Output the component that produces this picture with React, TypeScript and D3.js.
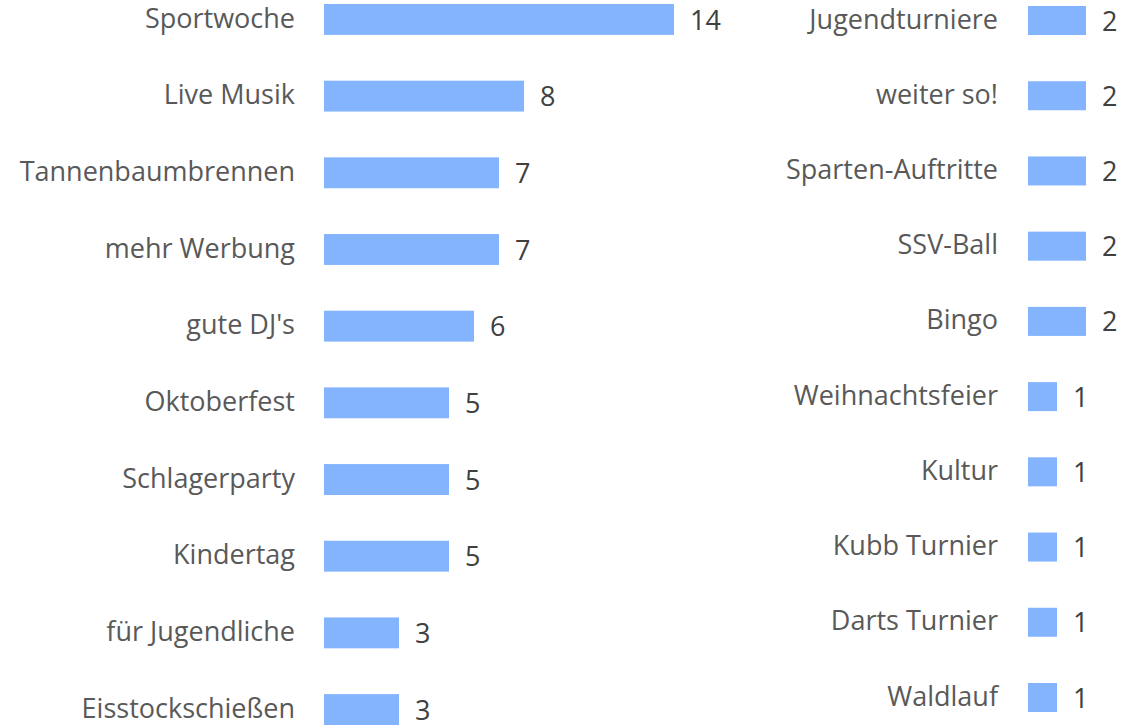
import React, { useRef, useEffect } from "react";
import * as d3 from "d3";

const leftCategories = [
  "Sportwoche",
  "Live Musik",
  "Tannenbaumbrennen",
  "mehr Werbung",
  "gute DJ's",
  "Oktoberfest",
  "Schlagerparty",
  "Kindertag",
  "für Jugendliche",
  "Eisstockschießen",
];
const leftValues = [14, 8, 7, 7, 6, 5, 5, 5, 3, 3];

const rightCategories = [
  "Jugendturniere",
  "weiter so!",
  "Sparten-Auftritte",
  "SSV-Ball",
  "Bingo",
  "Weihnachtsfeier",
  "Kultur",
  "Kubb Turnier",
  "Darts Turnier",
  "Waldlauf",
];
const rightValues = [2, 2, 2, 2, 2, 1, 1, 1, 1, 1];

const WIDTH = 1121;
const HEIGHT = 725;
const BAR_COLOR = "#85b4fe";

const App = () => {
  const svgRef = useRef<SVGSVGElement>(null);

  useEffect(() => {
    const svg = d3.select(svgRef.current);
    svg.selectAll("*").remove();

    const drawColumn = (
      categories: string[],
      values: number[],
      xRange: [number, number],
      xMax: number,
      yRange: [number, number],
      padding: number,
      labelGap: number
    ) => {
      const x = d3.scaleLinear().domain([0, xMax]).range(xRange);
      const y = d3
        .scaleBand<string>()
        .domain(categories)
        .range(yRange)
        .paddingInner(padding)
        .paddingOuter(0);

      const g = svg.append("g");
      const rows = g
        .selectAll("g.row")
        .data(categories.map((c, i) => ({ c, v: values[i] })))
        .enter()
        .append("g")
        .attr("class", "row");

      rows
        .append("rect")
        .attr("x", x(0))
        .attr("y", (d) => y(d.c)!)
        .attr("width", (d) => x(d.v) - x(0))
        .attr("height", y.bandwidth())
        .attr("fill", BAR_COLOR);

      rows
        .append("text")
        .attr("x", x(0) - labelGap)
        .attr("y", (d) => y(d.c)! + y.bandwidth() / 2)
        .attr("dy", "0.3em")
        .attr("text-anchor", "end")
        .attr("fill", "#595959")
        .attr("font-size", 27)
        .text((d) => d.c);

      rows
        .append("text")
        .attr("x", (d) => x(d.v) + 16)
        .attr("y", (d) => y(d.c)! + y.bandwidth() / 2 + 2)
        .attr("dy", "0.3em")
        .attr("fill", "#404040")
        .attr("font-size", 27)
        .text((d) => d.v);
    };

    drawColumn(leftCategories, leftValues, [324, 674], 14, [4, 725], 0.597, 29);
    drawColumn(rightCategories, rightValues, [1028, 1086], 2, [6, 712], 0.614, 30);
  }, []);

  return (
    <svg
      ref={svgRef}
      width={WIDTH}
      height={HEIGHT}
      style={{
        position: "absolute",
        left: 0,
        top: 0,
        fontFamily: "'Open Sans', sans-serif",
        background: "#fff",
      }}
    ></svg>
  );
};

export default App;
